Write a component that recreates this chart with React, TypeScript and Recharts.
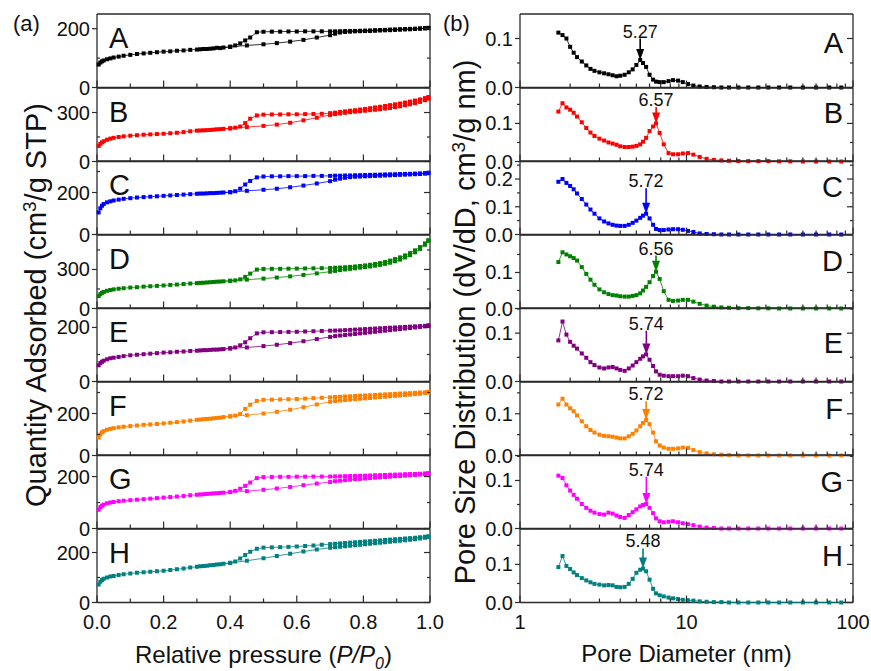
import React from "react";
import { ScatterChart, Scatter, XAxis, YAxis, ReferenceLine } from "recharts";

const FONT = "'Liberation Sans', Arial, Helvetica, sans-serif";
const AXIS = "#2b2b2b";

const sampleNames = ["A", "B", "C", "D", "E", "F", "G", "H"];
const sampleColors = ["#000000", "#ff0000", "#0000ff", "#008000", "#800080", "#ff8000", "#ff00ff", "#008080"];

// ---- isotherms (left column) ----
const adsP = [
  0.005, 0.01, 0.015, 0.02, 0.03, 0.04, 0.05, 0.065, 0.08, 0.1,
  0.12, 0.14, 0.16, 0.18, 0.2, 0.22, 0.24, 0.26, 0.28, 0.3,
  0.31, 0.32, 0.33, 0.34, 0.35, 0.37, 0.4, 0.45, 0.5, 0.54,
  0.58, 0.62, 0.66, 0.7, 0.715, 0.73, 0.745, 0.76, 0.775, 0.79,
  0.805, 0.82, 0.835, 0.85, 0.865, 0.88, 0.895, 0.91, 0.925, 0.94,
  0.955, 0.97, 0.985, 0.995,
];
const desP = [
  0.995, 0.985, 0.97, 0.955, 0.94, 0.925, 0.91, 0.895, 0.88, 0.865,
  0.85, 0.835, 0.82, 0.805, 0.79, 0.775, 0.76, 0.745, 0.73, 0.715,
  0.7, 0.675, 0.65, 0.625, 0.6, 0.575, 0.55, 0.525, 0.5, 0.48,
  0.46, 0.445, 0.43, 0.415, 0.4, 0.38, 0.36,
];

const adsA = [
  78, 85, 89, 92, 96, 99, 102, 105, 108, 111,
  114, 116, 118, 120, 122, 123, 125, 126, 128, 129,
  130, 131, 131, 132, 133, 134, 138, 143, 147, 151,
  156, 162, 170, 178, 183, 187, 189, 190, 191, 191.5,
  192, 192.5, 193, 194, 194.5, 195, 196, 197, 197.5, 198,
  199, 200, 201, 202,
];
const desA = [
  203, 202, 201, 200, 199.5, 199, 198, 197.5, 197, 196,
  195.5, 195, 194, 193.5, 193, 192.5, 192, 192, 191.5, 191,
  191, 191, 191, 191, 190.5, 190.5, 190, 190, 189.5, 188,
  170, 160, 150, 143, 139, 136, 135,
];
const adsB = [
  95, 108, 117, 124, 133, 140, 145, 150, 154, 158,
  161, 164, 166, 168, 170, 173, 176, 180, 185, 189,
  190, 191, 192, 193, 195, 198, 203, 211, 218, 226,
  237, 252, 268, 285, 290, 294, 298, 302, 305, 308,
  311, 314, 317, 320, 324, 328, 333, 338, 344, 350,
  357, 365, 375, 385,
];
const desB = [
  395, 388, 380, 373, 367, 361, 355, 350, 345, 340,
  335, 331, 326, 322, 318, 314, 311, 307, 303, 299,
  296, 292, 291, 290, 289, 289, 288, 288, 287, 282,
  262, 235, 214, 207, 203, 200, 197,
];
const adsC = [
  105, 125, 137, 145, 153, 158, 162, 166, 170, 173,
  176, 178, 180, 182, 184, 186, 188, 190, 192, 194,
  195, 195, 196, 197, 197, 199, 201, 208, 213, 218,
  225, 233, 243, 254, 261, 266, 270, 273, 275, 276,
  277, 278, 279, 280, 281, 282, 283, 284, 285, 286,
  287, 288, 290, 292,
];
const desC = [
  294, 292, 291, 290, 289, 288.5, 288, 287, 286.5, 286,
  285, 284.5, 284, 283, 282.5, 282, 281, 281, 280, 280,
  279, 279, 279, 278, 278, 278, 277, 277, 276, 272,
  255, 238, 218, 206, 202, 200, 198,
];
const adsD = [
  95, 110, 120, 127, 136, 142, 147, 152, 156, 161,
  164, 168, 171, 174, 177, 181, 184, 188, 192, 195,
  197, 198, 200, 202, 204, 207, 213, 222, 230, 238,
  247, 258, 270, 283, 289, 295, 300, 305, 309, 314,
  318, 323, 329, 335, 343, 352, 363, 376, 392, 410,
  432, 458, 490, 520,
];
const desD = [
  525, 500, 472, 447, 426, 408, 393, 380, 368, 358,
  349, 342, 336, 331, 327, 323, 320, 317, 315, 313,
  311, 310, 309, 308, 307, 306, 305, 305, 304, 299,
  268, 243, 224, 216, 213, 209, 206,
];
const adsE = [
  60, 68, 73, 77, 82, 86, 88, 91, 94, 97,
  99, 101, 103, 105, 107, 108, 110, 111, 113, 114,
  115, 116, 116, 117, 118, 119, 122, 126, 131, 136,
  142, 149, 157, 165, 168, 170, 172, 174, 176, 178,
  180, 182, 184, 186, 188, 190, 192, 194, 196, 198,
  200, 202, 204, 206,
];
const desE = [
  208, 206, 205, 204, 203, 202, 201, 200, 199, 198,
  197, 196, 195, 194, 193, 192, 191, 190, 189, 188.5,
  188, 187, 186, 185, 184, 183.5, 183, 182.5, 182, 178,
  160, 145, 134, 126, 123, 120, 118,
];
const adsF = [
  85, 100, 110, 116, 123, 127, 130, 134, 137, 140,
  143, 146, 148, 150, 153, 156, 159, 162, 166, 170,
  171, 173, 174, 175, 177, 180, 186, 192, 200, 208,
  218, 230, 243, 256, 259, 262, 264, 266, 268, 270,
  272, 274, 276, 278, 280, 282, 284, 286, 288, 290,
  292, 294, 297, 300,
];
const desF = [
  303, 301, 300, 298.5, 297, 296, 295, 293.5, 292, 291,
  290, 288.5, 287, 286, 285, 283.5, 282, 281, 280, 278.5,
  277, 275, 273, 271, 269, 268, 267, 266, 265, 260,
  242, 222, 198, 190, 187, 183, 179,
];
const adsG = [
  72, 82, 88, 92, 97, 100, 102, 105, 107, 109,
  111, 113, 115, 117, 119, 121, 123, 125, 128, 130,
  131, 132, 133, 134, 135, 137, 140, 144, 149, 154,
  160, 167, 173, 179, 182, 184, 186, 188, 190, 191,
  192.5, 194, 195.5, 197, 198, 199.5, 201, 202, 203.5, 205,
  206, 207.5, 209, 211,
];
const desG = [
  213, 212, 211, 210, 209.5, 209, 208, 207.5, 207, 206,
  205.5, 205, 204, 203.5, 203, 202.5, 202, 201.5, 201, 200.5,
  200, 200, 200, 199.5, 199.5, 199, 199, 198.5, 198, 194,
  177, 164, 153, 145, 141, 138, 136,
];
const adsH = [
  72, 83, 90, 95, 100, 104, 106, 110, 113, 116,
  119, 121, 123, 125, 127, 130, 133, 136, 140, 143,
  145, 146, 147, 149, 150, 153, 158, 167, 177, 186,
  195, 204, 212, 219, 221, 223, 225, 227, 229, 231,
  233, 235, 237, 239, 241, 243, 245, 247, 249, 251,
  253, 256, 259, 262,
];
const desH = [
  265, 263, 261, 259, 257.5, 256, 254.5, 253, 251.5, 250,
  248.5, 247, 245.5, 244, 242.5, 241, 239.5, 238, 236.5, 235,
  233.5, 231, 228, 226, 224, 222.5, 221.5, 220.5, 219.5, 215,
  203, 190, 176, 164, 159, 155, 152,
];

const isoAds = [adsA, adsB, adsC, adsD, adsE, adsF, adsG, adsH];
const isoDes = [desA, desB, desC, desD, desE, desF, desG, desH];

const isoMax = [250, 450, 350, 565, 272, 350, 283, 294];
const isoTicks = [
  [0, 100, 200],
  [0, 150, 300],
  [0, 100, 200, 300],
  [0, 150, 300, 450],
  [0, 100, 200],
  [0, 100, 200, 300],
  [0, 100, 200],
  [0, 100, 200],
];
const isoMajor = [
  [0, 200],
  [0, 300],
  [0, 200],
  [0, 300],
  [0, 200],
  [0, 200],
  [0, 200],
  [0, 200],
];
const pressureTicks = [0, 0.1, 0.2, 0.3, 0.4, 0.5, 0.6, 0.7, 0.8, 0.9, 1.0];
const pressureMajor = [0, 0.2, 0.4, 0.6, 0.8, 1.0];

// ---- pore size distributions (right column) ----
const poreD = [
  1.7, 1.8, 1.9, 2.0, 2.1, 2.2, 2.35, 2.5, 2.65, 2.8,
  3.0, 3.2, 3.4, 3.6, 3.8, 4.0, 4.25, 4.5, 4.75, 5.0,
  5.27, 5.48, 5.72, 6.0, 6.3, 6.56, 6.9, 7.3, 7.8, 8.3,
  8.9, 9.5, 10.2, 11, 12, 13.2, 14.6, 16.2, 18, 20.5,
  23.5, 27, 31, 36, 42, 50, 60, 72, 85,
];
const psdA = [
  0.112, 0.107, 0.1, 0.083, 0.071, 0.062, 0.053, 0.045, 0.038, 0.034,
  0.031, 0.029, 0.027, 0.025, 0.023, 0.024, 0.026, 0.031, 0.037, 0.046,
  0.056, 0.05, 0.042, 0.026, 0.016, 0.012, 0.011, 0.011, 0.013, 0.015,
  0.014, 0.011, 0.007, 0.004, 0.002, 0.001, 0.0005, 0, 0, 0,
  0, 0, 0, 0, 0, 0, 0, 0, 0,
];
const psdB = [
  0.131, 0.153, 0.142, 0.136, 0.128, 0.118, 0.103, 0.088, 0.076, 0.067,
  0.06, 0.055, 0.05, 0.047, 0.044, 0.04, 0.038, 0.038, 0.039, 0.041,
  0.045, 0.052, 0.062, 0.08, 0.092, 0.1, 0.075, 0.045, 0.022, 0.019,
  0.019, 0.021, 0.022, 0.018, 0.012, 0.007, 0.004, 0.003, 0.002, 0.001,
  0.001, 0.001, 0.001, 0.0005, 0.0005, 0, 0, 0, 0,
];
const psdC = [
  0.19, 0.2, 0.186, 0.175, 0.163, 0.148, 0.128, 0.108, 0.09, 0.075,
  0.058, 0.047, 0.04, 0.035, 0.032, 0.031, 0.031, 0.035, 0.042, 0.05,
  0.06, 0.068, 0.075, 0.058, 0.035, 0.02, 0.016, 0.016, 0.018, 0.019,
  0.019, 0.017, 0.013, 0.009, 0.004, 0.002, 0.001, 0, 0, 0,
  0, 0, 0, 0, 0, 0, 0, 0, 0,
];
const psdD = [
  0.129, 0.156, 0.15, 0.145, 0.14, 0.133, 0.115, 0.096, 0.08, 0.066,
  0.053, 0.045, 0.04, 0.037, 0.036, 0.034, 0.033, 0.033, 0.035, 0.037,
  0.042, 0.05, 0.06, 0.073, 0.09, 0.102, 0.082, 0.048, 0.024, 0.021,
  0.022, 0.024, 0.024, 0.019, 0.013, 0.008, 0.005, 0.003, 0.002, 0.001,
  0.001, 0.0005, 0.0005, 0, 0, 0, 0, 0, 0,
];
const psdE = [
  0.085, 0.124, 0.097, 0.082, 0.074, 0.068, 0.058, 0.049, 0.04, 0.034,
  0.029, 0.027, 0.029, 0.03, 0.027, 0.024, 0.022, 0.027, 0.033, 0.04,
  0.047, 0.052, 0.056, 0.045, 0.032, 0.021, 0.014, 0.012, 0.011, 0.011,
  0.011, 0.012, 0.011, 0.007, 0.004, 0.002, 0.001, 0, 0, 0,
  0, 0, 0, 0, 0, 0, 0, 0, 0,
];
const psdF = [
  0.122, 0.136, 0.122, 0.113, 0.106, 0.096, 0.082, 0.07, 0.061, 0.055,
  0.05, 0.047, 0.046, 0.045, 0.043, 0.041, 0.041, 0.046, 0.052, 0.06,
  0.07, 0.078, 0.085, 0.075, 0.055, 0.034, 0.024, 0.019, 0.016, 0.016,
  0.017, 0.019, 0.018, 0.013, 0.008, 0.005, 0.003, 0.002, 0.001, 0,
  0, 0, 0, 0, 0, 0, 0, 0, 0,
];
const psdG = [
  0.11, 0.105, 0.09, 0.079, 0.07, 0.062, 0.051, 0.043, 0.037, 0.033,
  0.03, 0.029, 0.033, 0.031, 0.027, 0.024, 0.022, 0.028, 0.034, 0.04,
  0.046, 0.049, 0.051, 0.043, 0.032, 0.021, 0.015, 0.013, 0.014, 0.015,
  0.013, 0.011, 0.009, 0.007, 0.004, 0.002, 0.001, 0, 0, 0,
  0, 0, 0, 0, 0, 0, 0, 0, 0,
];
const psdH = [
  0.093, 0.122, 0.096, 0.088, 0.079, 0.072, 0.064, 0.058, 0.053, 0.049,
  0.047, 0.045, 0.046, 0.045, 0.041, 0.04, 0.041, 0.049, 0.062, 0.078,
  0.086, 0.089, 0.082, 0.06, 0.036, 0.024, 0.019, 0.016, 0.013, 0.011,
  0.009, 0.007, 0.006, 0.005, 0.003, 0.002, 0.001, 0.001, 0, 0,
  0, 0, 0, 0, 0, 0, 0, 0, 0,
];
const psdAll = [psdA, psdB, psdC, psdD, psdE, psdF, psdG, psdH];

const peakD = [5.27, 6.57, 5.72, 6.56, 5.74, 5.72, 5.74, 5.48];
const peakV = [0.056, 0.1, 0.075, 0.102, 0.056, 0.085, 0.051, 0.089];
const arrowTopV = [0.1, 0.143, 0.167, 0.147, 0.105, 0.13, 0.108, 0.142];

const psdMax = [0.15, 0.193, 0.265, 0.204, 0.152, 0.176, 0.153, 0.193];
const psdTicks = [
  [0, 0.05, 0.1],
  [0, 0.05, 0.1, 0.15],
  [0, 0.05, 0.1, 0.15, 0.2, 0.25],
  [0, 0.05, 0.1, 0.15],
  [0, 0.05, 0.1, 0.15],
  [0, 0.05, 0.1, 0.15],
  [0, 0.05, 0.1, 0.15],
  [0, 0.05, 0.1, 0.15],
];
const psdMajor = [0, 0.1, 0.2];
const diameterTicks = [1, 2, 3, 4, 5, 6, 7, 8, 9, 10, 20, 30, 40, 50, 60, 70, 80, 90, 100];
const diameterMajor = [1, 10, 100];

// ---- layout ----
const PANEL_TOP = 14;
const PANEL_H = 73.5;
const PAD = 10;
const BOTTOM_SPACE = 70;
const letterDyRight = [39, 35, 36, 36, 45, 37, 37, 37];

const isMajor = (v: number, majors: number[]) => majors.some((m) => Math.abs(m - v) < 1e-9);

function bottomTick(majors: number[], fmt: ((v: number) => string) | null) {
  return (props: any) => {
    const { x, y, payload } = props;
    const major = isMajor(payload.value, majors);
    return (
      <g>
        <line x1={x} x2={x} y1={y} y2={y - (major ? 7 : 4)} stroke={AXIS} strokeWidth={1.2} />
        {fmt && major ? (
          <text x={x} y={y + 26} textAnchor="middle" fontSize={20} fontFamily={FONT} fill="#111">
            {fmt(payload.value)}
          </text>
        ) : null}
      </g>
    );
  };
}

function topTick(majors: number[]) {
  return (props: any) => {
    const { x, y, payload } = props;
    const major = isMajor(payload.value, majors);
    return <line x1={x} x2={x} y1={y} y2={y + (major ? 7 : 4)} stroke={AXIS} strokeWidth={1.2} />;
  };
}

function leftTick(majors: number[], fmt: (v: number) => string, minorIn: boolean) {
  return (props: any) => {
    const { x, y, payload } = props;
    const major = isMajor(payload.value, majors);
    const x2 = major ? x - 5 : minorIn ? x + 3 : x - 3;
    return (
      <g>
        <line x1={x} x2={x2} y1={y} y2={y} stroke={AXIS} strokeWidth={1.2} />
        {major ? (
          <text x={x - 7} y={y + 7} textAnchor="end" fontSize={20} fontFamily={FONT} fill="#111">
            {fmt(payload.value)}
          </text>
        ) : null}
      </g>
    );
  };
}

function rightTick(majors: number[]) {
  return (props: any) => {
    const { x, y, payload } = props;
    const major = isMajor(payload.value, majors);
    return <line x1={x} x2={x - (major ? 6 : 3)} y1={y} y2={y} stroke={AXIS} strokeWidth={1.2} />;
  };
}

const square = (color: string) => (props: any) => {
  if (props.cx == null || props.cy == null) return <g />;
  return <rect x={props.cx - 2} y={props.cy - 2} width={4} height={4} fill={color} />;
};

const axisLine = { stroke: AXIS, strokeWidth: 1.3 };

// axes of zero size are not drawn, so the top/bottom/right axes get 1px
// and the margins give that pixel back
function IsoPanel({ i }: { i: number }) {
  const last = i === 7;
  const top = PANEL_TOP + PANEL_H * i;
  const color = sampleColors[i];
  const ads = adsP.map((p, k) => ({ x: p, y: isoAds[i][k] }));
  const des = desP.map((p, k) => ({ x: p, y: isoDes[i][k] }));
  const bottom = last ? BOTTOM_SPACE : PAD;
  return (
    <div style={{ position: "absolute", left: 0, top: top - PAD }}>
      <ScatterChart
        width={460}
        height={PANEL_H + PAD + bottom}
        margin={{ top: PAD - 1, right: 29, bottom: bottom - 1, left: 0 }}
      >
        <XAxis
          xAxisId="b"
          dataKey="x"
          type="number"
          domain={[0, 1]}
          ticks={pressureTicks}
          interval={0}
          height={1}
          tickSize={0}
          tickMargin={0}
          tickLine={false}
          axisLine={axisLine}
          tick={bottomTick(pressureMajor, last ? (v) => v.toFixed(1) : null)}
        />
        <XAxis
          xAxisId="t"
          orientation="top"
          type="number"
          domain={[0, 1]}
          allowDataOverflow
          ticks={pressureTicks}
          interval={0}
          height={1}
          tickSize={0}
          tickMargin={0}
          tickLine={false}
          axisLine={axisLine}
          tick={topTick(pressureMajor)}
        />
        <YAxis
          yAxisId="l"
          dataKey="y"
          type="number"
          domain={[0, isoMax[i]]}
          ticks={isoTicks[i]}
          interval={0}
          width={97}
          tickSize={0}
          tickMargin={0}
          tickLine={false}
          axisLine={axisLine}
          tick={leftTick(isoMajor[i], (v) => String(v), true)}
        />
        <YAxis
          yAxisId="r"
          orientation="right"
          type="number"
          domain={[0, isoMax[i]]}
          allowDataOverflow
          ticks={isoTicks[i]}
          interval={0}
          width={1}
          tickSize={0}
          tickMargin={0}
          tickLine={false}
          axisLine={axisLine}
          tick={rightTick(isoMajor[i])}
        />
        <Scatter
          xAxisId="b"
          yAxisId="l"
          data={ads}
          fill={color}
          stroke={color}
          line={{ stroke: color, strokeWidth: 0.8 }}
          shape={square(color)}
          isAnimationActive={false}
        />
        <Scatter
          xAxisId="b"
          yAxisId="l"
          data={des}
          fill={color}
          stroke={color}
          line={{ stroke: color, strokeWidth: 0.8 }}
          shape={square(color)}
          isAnimationActive={false}
        />
      </ScatterChart>
    </div>
  );
}

function PsdPanel({ i }: { i: number }) {
  const last = i === 7;
  const top = PANEL_TOP + PANEL_H * i;
  const color = sampleColors[i];
  const pts = poreD.map((d, k) => ({ x: d, y: psdAll[i][k] }));
  const bottom = last ? BOTTOM_SPACE : PAD;
  const label = peakD[i].toFixed(2);
  const arrow = (p: any) => {
    const { x1, y1, x2, y2 } = p;
    return (
      <g>
        <line x1={x1} y1={y1} x2={x2} y2={y2 - 9} stroke={color} strokeWidth={1.6} />
        <polygon points={`${x2 - 4},${y2 - 11} ${x2 + 4},${y2 - 11} ${x2},${y2}`} fill={color} />
        <text x={x1} y={y1 - 1} textAnchor="middle" fontSize={18} fontFamily={FONT} fill="#111">
          {label}
        </text>
      </g>
    );
  };
  return (
    <div style={{ position: "absolute", left: 440, top: top - PAD }}>
      <ScatterChart
        width={431}
        height={PANEL_H + PAD + bottom}
        margin={{ top: PAD - 1, right: 17, bottom: bottom - 1, left: 0 }}
      >
        <XAxis
          xAxisId="b"
          dataKey="x"
          type="number"
          scale="log"
          domain={[1, 100]}
          ticks={diameterTicks}
          interval={0}
          height={1}
          tickSize={0}
          tickMargin={0}
          tickLine={false}
          axisLine={axisLine}
          tick={bottomTick(diameterMajor, last ? (v) => String(v) : null)}
        />
        <XAxis
          xAxisId="t"
          orientation="top"
          type="number"
          scale="log"
          domain={[1, 100]}
          allowDataOverflow
          ticks={diameterTicks}
          interval={0}
          height={1}
          tickSize={0}
          tickMargin={0}
          tickLine={false}
          axisLine={axisLine}
          tick={topTick(diameterMajor)}
        />
        <YAxis
          yAxisId="l"
          dataKey="y"
          type="number"
          domain={[0, psdMax[i]]}
          ticks={psdTicks[i]}
          interval={0}
          width={80}
          tickSize={0}
          tickMargin={0}
          tickLine={false}
          axisLine={axisLine}
          tick={leftTick(psdMajor, (v) => v.toFixed(1), false)}
        />
        <YAxis
          yAxisId="r"
          orientation="right"
          type="number"
          domain={[0, psdMax[i]]}
          allowDataOverflow
          ticks={psdTicks[i]}
          interval={0}
          width={1}
          tickSize={0}
          tickMargin={0}
          tickLine={false}
          axisLine={axisLine}
          tick={rightTick(psdMajor)}
        />
        <Scatter
          xAxisId="b"
          yAxisId="l"
          data={pts}
          fill={color}
          stroke={color}
          line={{ stroke: color, strokeWidth: 0.8 }}
          shape={square(color)}
          isAnimationActive={false}
        />
        <ReferenceLine
          xAxisId="b"
          yAxisId="l"
          segment={[
            { x: peakD[i], y: arrowTopV[i] },
            { x: peakD[i], y: peakV[i] },
          ]}
          ifOverflow="visible"
          shape={arrow}
        />
      </ScatterChart>
    </div>
  );
}

export default function App() {
  return (
    <div
      style={{
        position: "absolute",
        left: 0,
        top: 0,
        width: 871,
        height: 671,
        background: "#fff",
        overflow: "hidden",
        fontFamily: FONT,
      }}
    >
      {sampleNames.map((_, i) => (
        <PsdPanel key={`psd-${i}`} i={i} />
      ))}
      {sampleNames.map((_, i) => (
        <IsoPanel key={`iso-${i}`} i={i} />
      ))}
      <svg
        width={871}
        height={671}
        style={{ position: "absolute", left: 0, top: 0, pointerEvents: "none" }}
        fontFamily={FONT}
        fill="#111"
      >
        <text x={13} y={31} fontSize={22}>(a)</text>
        <text x={443} y={31} fontSize={22}>(b)</text>
        {sampleNames.map((name, i) => (
          <text key={`la-${name}`} x={109} y={PANEL_TOP + PANEL_H * i + 34} fontSize={29}>
            {name}
          </text>
        ))}
        {sampleNames.map((name, i) => (
          <text
            key={`lb-${name}`}
            x={843}
            y={PANEL_TOP + PANEL_H * i + letterDyRight[i]}
            fontSize={29}
            textAnchor="end"
          >
            {name}
          </text>
        ))}
        <text transform="translate(46,305) rotate(-90)" textAnchor="middle" fontSize={29}>
          Quantity Adsorbed (cm
          <tspan dy={-10} fontSize={19}>3</tspan>
          <tspan dy={10}>/g STP)</tspan>
        </text>
        <text transform="translate(475,322) rotate(-90)" textAnchor="middle" fontSize={29}>
          Pore Size Distribution (dV/dD, cm
          <tspan dy={-10} fontSize={19}>3</tspan>
          <tspan dy={10}>/g nm)</tspan>
        </text>
        <text x={263.5} y={663} textAnchor="middle" fontSize={24}>
          Relative pressure (
          <tspan fontStyle="italic">P/P</tspan>
          <tspan fontStyle="italic" dy={6} fontSize={16}>0</tspan>
          <tspan dy={-6}>)</tspan>
        </text>
        <text x={686.5} y={662} textAnchor="middle" fontSize={24}>
          Pore Diameter (nm)
        </text>
      </svg>
    </div>
  );
}
